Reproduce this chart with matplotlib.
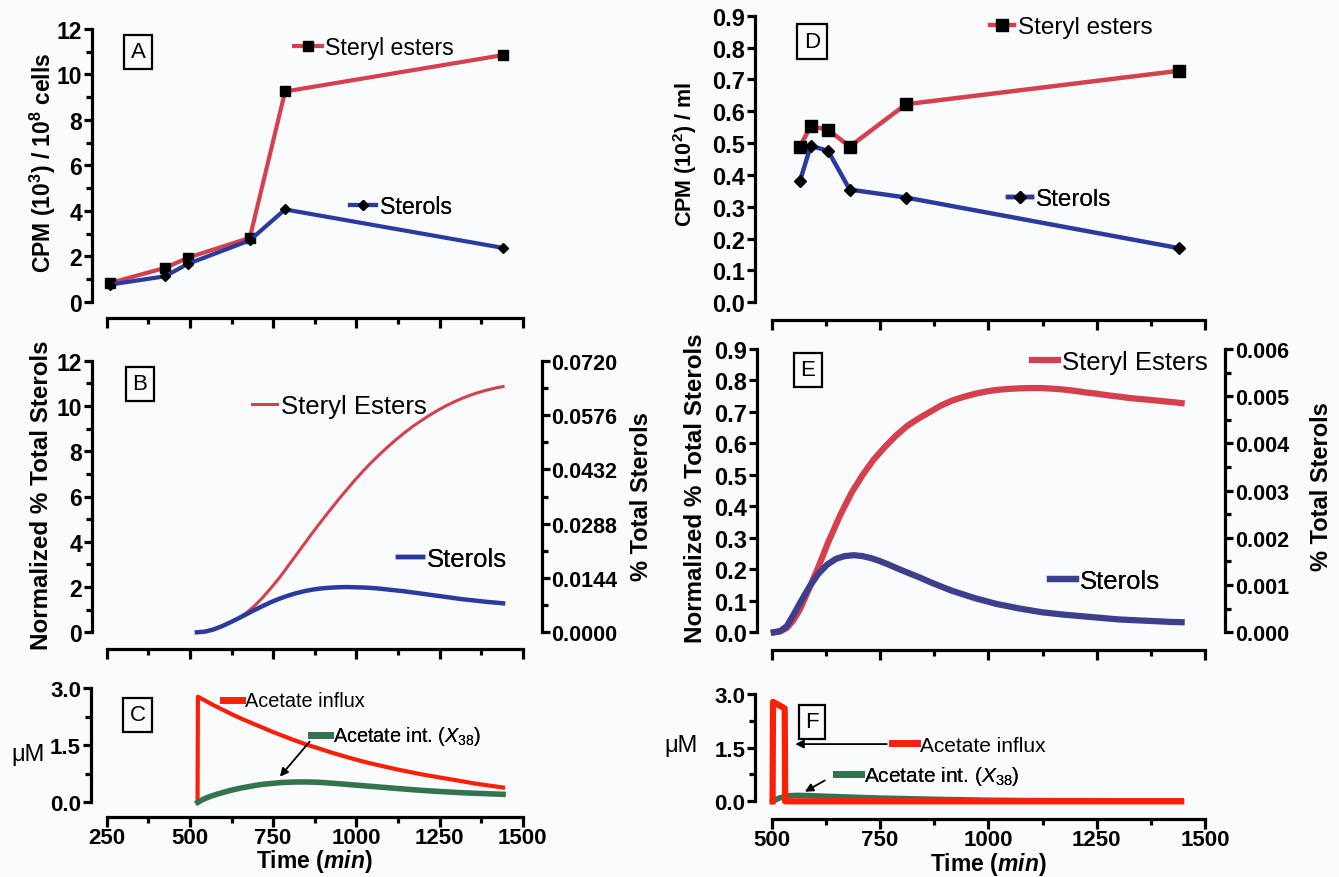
import matplotlib
matplotlib.use('Agg')
import matplotlib.pyplot as plt
from matplotlib.ticker import MultipleLocator, FixedLocator, FormatStrFormatter
from matplotlib.lines import Line2D

plt.rcParams['font.family'] = ['Liberation Sans', 'DejaVu Sans']
plt.rcParams['font.weight'] = 'bold'
plt.rcParams['mathtext.fontset'] = 'custom'
plt.rcParams['mathtext.rm'] = 'Liberation Sans:weight=normal'
plt.rcParams['mathtext.it'] = 'Liberation Sans:style=italic:weight=normal'
plt.rcParams['mathtext.bf'] = 'Liberation Sans:weight=bold'
plt.rcParams['mathtext.bfit'] = 'Liberation Sans:style=italic:weight=bold'

# ---- data ----
# A: experimental, per 10^8 cells
t_a = [259, 426, 493, 680, 786, 1440]
esters_a = [0.82, 1.49, 1.93, 2.81, 9.25, 10.85]
sterols_a = [0.75, 1.12, 1.66, 2.70, 4.06, 2.37]

# D: experimental, per ml
t_d = [565, 590, 630, 680, 810, 1440]
esters_d = [0.489, 0.553, 0.542, 0.489, 0.622, 0.727]
sterols_d = [0.380, 0.491, 0.476, 0.354, 0.329, 0.170]

# B: model, normalized % total sterols
t_b = [521, 545, 570, 595, 620, 645, 670, 695, 720, 745, 770, 795, 820, 845,
       870, 895, 920, 945, 970, 995, 1020, 1045, 1070, 1095, 1120, 1145, 1170,
       1195, 1220, 1245, 1270, 1295, 1320, 1345, 1370, 1395, 1420, 1441]
esters_b = [0, 0.03, 0.12, 0.26, 0.43, 0.62, 0.86, 1.18, 1.56, 1.98, 2.43,
            2.93, 3.43, 3.93, 4.43, 4.91, 5.38, 5.84, 6.28, 6.71, 7.12, 7.5,
            7.86, 8.2, 8.52, 8.82, 9.1, 9.35, 9.59, 9.81, 10.01, 10.19, 10.35,
            10.49, 10.61, 10.71, 10.8, 10.86]
sterols_b = [0, 0.03, 0.12, 0.26, 0.43, 0.61, 0.80, 0.99, 1.17, 1.34, 1.49,
             1.62, 1.73, 1.82, 1.89, 1.94, 1.97, 1.99, 2.0, 1.99, 1.98, 1.96,
             1.93, 1.89, 1.85, 1.81, 1.76, 1.71, 1.66, 1.61, 1.56, 1.51, 1.46,
             1.42, 1.38, 1.34, 1.31, 1.28]

# E: model, normalized % total sterols
t_e = [505, 520, 535, 550, 566, 585, 607, 630, 659, 685, 710, 735, 762, 787,
       813, 840, 865, 890, 916, 943, 970, 995, 1019, 1045, 1070, 1096, 1122,
       1148, 1175, 1200, 1225, 1250, 1275, 1300, 1328, 1360, 1390, 1420, 1446]
esters_e = [0, 0.003, 0.014, 0.038, 0.075, 0.135, 0.205, 0.285, 0.375, 0.445,
            0.50, 0.548, 0.59, 0.625, 0.656, 0.68, 0.70, 0.72, 0.736, 0.748,
            0.758, 0.765, 0.77, 0.773, 0.775, 0.776, 0.776, 0.774, 0.771,
            0.767, 0.762, 0.758, 0.753, 0.749, 0.744, 0.74, 0.736, 0.732, 0.728]
t_e2 = [505, 520, 535, 550, 566, 585, 607, 628, 648, 668, 690, 710, 731, 750,
        770, 790, 813, 840, 865, 890, 916, 943, 970, 995, 1019, 1045, 1070,
        1096, 1122, 1148, 1175, 1200, 1225, 1250, 1275, 1300, 1328, 1360, 1390,
        1420, 1446]
sterols_e = [0, 0.004, 0.02, 0.055, 0.095, 0.14, 0.185, 0.215, 0.233, 0.242,
             0.245, 0.242, 0.235, 0.226, 0.215, 0.203, 0.19, 0.175, 0.16, 0.146,
             0.132, 0.12, 0.108, 0.099, 0.09, 0.083, 0.076, 0.07, 0.064, 0.06,
             0.056, 0.053, 0.05, 0.047, 0.044, 0.041, 0.039, 0.037, 0.035,
             0.033, 0.032]

# C: acetate (uM)
t_c_in = [523, 524, 545, 570, 600, 630, 660, 690, 720, 750, 785, 815, 850, 890,
          925, 960, 1000, 1040, 1080, 1120, 1160, 1200, 1240, 1280, 1320, 1360,
          1400, 1441]
influx_c = [0, 2.78, 2.68, 2.56, 2.43, 2.3, 2.18, 2.07, 1.96, 1.85, 1.73,
            1.63, 1.52, 1.41, 1.31, 1.22, 1.12, 1.03, 0.95, 0.87, 0.8, 0.73,
            0.67, 0.61, 0.55, 0.49, 0.44, 0.39]
t_c_x = [524, 540, 560, 580, 600, 625, 650, 675, 700, 725, 751, 775, 800, 825,
         850, 875, 900, 930, 960, 995, 1030, 1065, 1100, 1150, 1194, 1240,
         1280, 1321, 1380, 1441]
x38_c = [0, 0.08, 0.15, 0.21, 0.26, 0.32, 0.37, 0.41, 0.45, 0.48, 0.50, 0.52,
         0.53, 0.535, 0.535, 0.53, 0.52, 0.50, 0.48, 0.455, 0.43, 0.405, 0.38,
         0.345, 0.315, 0.29, 0.27, 0.25, 0.23, 0.21]

# F: acetate (uM)
t_f_in = [502, 503, 530, 531, 1445]
influx_f = [0, 2.78, 2.6, 0, 0]
t_f_x = [503, 512, 520, 532, 545, 560, 580, 615, 650, 700, 750, 825, 900,
         1000, 1090, 1445]
x38_f = [0, 0.06, 0.10, 0.14, 0.16, 0.165, 0.16, 0.145, 0.13, 0.11, 0.09,
         0.07, 0.05, 0.03, 0.02, 0.01]

BG = '#fafbfd'
RED = '#d5404e'
BLUE = '#2b3a9e'
NAVY = '#3d3f8c'
ORANGE_RED = '#fa2008'
GREEN = '#33744f'

W, H = 1339, 878
fig = plt.figure(figsize=(W / 100, H / 100), dpi=100, facecolor=BG)


def px_axes(x0, x1, ytop, ybot):
    return fig.add_axes([x0 / W, 1 - ybot / H, (x1 - x0) / W, (ybot - ytop) / H])


def pt(px):
    return px * 0.72


def setup(ax, xlim, ylim, xmaj, xmin, yticks, ymin, yfmt, left_off, bot_off,
          xlabels, ysize=16):
    ax.set_facecolor('none')
    ax.set_xlim(*xlim)
    ax.set_ylim(*ylim)
    for s in ['top', 'right']:
        ax.spines[s].set_visible(False)
    ax.spines['left'].set_position(('outward', pt(left_off)))
    ax.spines['bottom'].set_position(('outward', pt(bot_off)))
    for s in ['left', 'bottom']:
        ax.spines[s].set_linewidth(2.3)
    ax.xaxis.set_major_locator(MultipleLocator(xmaj))
    ax.xaxis.set_minor_locator(MultipleLocator(xmin))
    ax.yaxis.set_major_locator(FixedLocator(yticks))
    if ymin:
        ax.yaxis.set_minor_locator(FixedLocator(ymin))
    ax.yaxis.set_major_formatter(FormatStrFormatter(yfmt))
    ax.tick_params(which='major', length=6, width=2.3, pad=1)
    ax.tick_params(which='minor', length=4, width=2.3)
    ax.tick_params(axis='y', labelsize=ysize)
    ax.tick_params(axis='x', which='major', length=7, pad=0.5, labelsize=16)
    ax.tick_params(axis='x', labelbottom=xlabels)


def right_axis(ax, ylim, yticks, ymin, yfmt, off):
    ax2 = ax.twinx()
    ax2.set_facecolor('none')
    ax2.set_ylim(*ylim)
    for s in ['top', 'left', 'bottom']:
        ax2.spines[s].set_visible(False)
    ax2.spines['right'].set_position(('outward', pt(off)))
    ax2.spines['right'].set_linewidth(2.3)
    ax2.yaxis.set_major_locator(FixedLocator(yticks))
    ax2.yaxis.set_minor_locator(FixedLocator(ymin))
    ax2.yaxis.set_major_formatter(FormatStrFormatter(yfmt))
    ax2.tick_params(which='major', length=6, width=2.3, labelsize=15.5, pad=1)
    ax2.tick_params(which='minor', length=4, width=2.3)
    return ax2


def ylab(ax, text, x, y, rot=90, weight='bold', size=16):
    ax.set_ylabel(text, fontsize=size, fontweight=weight, rotation=rot,
                  ha='center', va='center', rotation_mode='anchor')
    ax.yaxis.set_label_coords(x / W, 1 - y / H, transform=fig.transFigure)


def xlab(ax, text, x, y):
    ax.set_xlabel(text, fontsize=16.5, fontweight='bold', va='center')
    ax.xaxis.set_label_coords(x / W, 1 - y / H, transform=fig.transFigure)


def leg(ax, kw, label, x, y, hl, size=16):
    h = Line2D([], [], **kw)
    lg = ax.legend([h], [label], loc='center left', bbox_to_anchor=(x / W, 1 - y / H),
                   bbox_transform=fig.transFigure, frameon=False, borderpad=0,
                   borderaxespad=0, handlelength=hl, handletextpad=0.15, numpoints=1,
                   prop=dict(size=size, weight='normal'))
    ax.add_artist(lg)


def box(x, y, s):
    fig.text(x / W, 1 - y / H, s, ha='center', va='center', fontsize=16,
             fontweight='normal',
             bbox=dict(boxstyle='square,pad=0.3', fc='none', ec='black', lw=1.6))


# left column x: 250 -> 106.7 px, 1500 -> 522.7 px
LX0, LX1 = 106.7, 522.7
# right column x: 500 -> 771.7 px, 1500 -> 1205 px
RX0, RX1 = 771.7, 1205

# ---------- A ----------
axA = px_axes(LX0, LX1, 30, 302.7)
setup(axA, (250, 1500), (0, 12), 250, 125, list(range(0, 13, 2)), list(range(1, 12, 2)),
      '%d', 15, 16.3, False, ysize=16.5)
axA.plot(t_a, esters_a, color=RED, lw=3, marker='s', ms=7.5, mfc='black', mec='black',
         clip_on=False, zorder=3)
axA.plot(t_a, sterols_a, color=BLUE, lw=3, marker='D', ms=5.5, mfc='black', mec='black',
         clip_on=False, zorder=4)
ylab(axA, r'CPM (10$^{\mathbf{3}}$) / 10$^{\mathbf{8}}$ cells', 43, 163, size=16.5)
leg(axA, dict(color=RED, lw=3, marker='s', ms=7.5, mfc='black', mec='black'),
    'Steryl esters', 294, 49, 1.2, size=16.7)
leg(axA, dict(color=BLUE, lw=3, marker='D', ms=5.5, mfc='black', mec='black'),
    'Sterols', 349.5, 208, 1.15, size=16.7)
box(138, 53, 'A')

# ---------- B ----------
axB = px_axes(LX0, LX1, 361.7, 633.3)
setup(axB, (250, 1500), (0, 12), 250, 125, list(range(0, 13, 2)), list(range(1, 12, 2)),
      '%d', 15, 16.7, False, ysize=16.5)
axB.plot(t_b, esters_b, color=RED, lw=2.2, clip_on=False, zorder=3)
axB.plot(t_b, sterols_b, color=BLUE, lw=3.2, clip_on=False, zorder=4)
axB2 = right_axis(axB, (0, 0.072), [0, 0.0144, 0.0288, 0.0432, 0.0576, 0.072],
                  [0.0072, 0.0216, 0.036, 0.0504, 0.0648], '%.4f', 19)
ylab(axB, 'Normalized % Total Sterols', 42, 495, size=17.4)
ylab(axB2, '% Total Sterols', 641, 497, size=17)
leg(axB, dict(color=RED, lw=2.2), 'Steryl Esters', 251.7, 407, 1.0, size=18.5)
leg(axB, dict(color=BLUE, lw=3.2), 'Sterols', 397.7, 560, 1.0, size=18.5)
box(140, 385, 'B')

# ---------- C ----------
axC = px_axes(LX0, LX1, 689.3, 803.3)
setup(axC, (250, 1500), (0, 3), 250, 125, [0, 1.5, 3.0], [0.75, 2.25], '%.1f', 16, 14.7,
      True)
axC.plot(t_c_in, influx_c, color=ORANGE_RED, lw=3, clip_on=False, zorder=3)
axC.plot(t_c_x, x38_c, color=GREEN, lw=4, clip_on=False, zorder=4)
ylab(axC, 'μM', 28, 755, rot=0, weight='normal', size=17)
xlab(axC, r'Time ($\mathbfit{min}$)', 314.7, 862)
leg(axC, dict(color=ORANGE_RED, lw=5), 'Acetate influx', 223, 702, 0.95, size=14.3)
leg(axC, dict(color=GREEN, lw=5), r'Acetate int. ($\mathit{X}_{38}$)', 311, 737, 0.95,
    size=14.3)
axC.annotate('', xy=(765, 0.62), xytext=(865, 1.65),
             arrowprops=dict(arrowstyle='-|>', color='black', lw=1.3, mutation_scale=12))
box(137.5, 716, 'C')

# ---------- D ----------
axD = px_axes(RX0, RX1, 16.7, 303.3)
setup(axD, (500, 1500), (0, 0.9), 250, 125, [i / 10 for i in range(10)], None,
      '%.1f', 17, 17.4, False, ysize=17)
axD.plot(t_d, esters_d, color=RED, lw=3.2, marker='s', ms=9, mfc='black', mec='black',
         clip_on=False, zorder=3)
axD.plot(t_d, sterols_d, color=BLUE, lw=3.2, marker='D', ms=6, mfc='black', mec='black',
         clip_on=False, zorder=4)
ylab(axD, r'CPM (10$^{\mathbf{2}}$) / ml', 684.6, 155, size=15.5)
leg(axD, dict(color=RED, lw=3.2, marker='s', ms=9, mfc='black', mec='black'),
    'Steryl esters', 990, 28, 1.0, size=17.5)
leg(axD, dict(color=BLUE, lw=3.2, marker='D', ms=6, mfc='black', mec='black'),
    'Sterols', 1008, 200, 1.0, size=17.5)
box(812, 42.5, 'D')

# ---------- E ----------
axE = px_axes(RX0, RX1, 350, 633.3)
setup(axE, (500, 1500), (0, 0.9), 250, 125, [i / 10 for i in range(10)], None,
      '%.1f', 15, 17.4, False, ysize=17)
axE.plot(t_e, esters_e, color=RED, lw=4.5, clip_on=False, zorder=3)
axE.plot(t_e2, sterols_e, color=NAVY, lw=4.5, clip_on=False, zorder=4)
axE2 = right_axis(axE, (0, 0.006), [0, 0.001, 0.002, 0.003, 0.004, 0.005, 0.006],
                  [0.0005, 0.0015, 0.0025, 0.0035, 0.0045, 0.0055], '%.3f', 20)
ylab(axE, 'Normalized % Total Sterols', 695.7, 488, size=17.4)
ylab(axE2, '% Total Sterols', 1322, 487, size=17)
leg(axE, dict(color=RED, lw=4.5), 'Steryl Esters', 1032, 363, 1.0, size=18.5)
leg(axE, dict(color=NAVY, lw=4.5), 'Sterols', 1050, 582, 1.0, size=18.5)
box(808, 371, 'E')

# ---------- F ----------
axF = px_axes(RX0, RX1, 695, 802.3)
setup(axF, (500, 1500), (0, 3), 250, 125, [0, 1.5, 3.0], [0.75, 2.25], '%.1f', 16.5, 17.7,
      True)
axF.plot(t_f_x, x38_f, color=GREEN, lw=4, clip_on=False, zorder=3)
axF.plot(t_f_in, influx_f, color=ORANGE_RED, lw=4.5, clip_on=False, zorder=4)
ylab(axF, 'μM', 681, 746, rot=0, weight='normal', size=17)
xlab(axF, r'Time ($\mathbfit{min}$)', 988.3, 865)
leg(axF, dict(color=ORANGE_RED, lw=5), 'Acetate influx', 892, 746, 1.2, size=15)
leg(axF, dict(color=GREEN, lw=5), r'Acetate int. ($\mathit{X}_{38}$)', 836, 777, 1.2,
    size=15)
axF.annotate('', xy=(548, 1.6), xytext=(772, 1.6),
             arrowprops=dict(arrowstyle='-|>', color='black', lw=1.3, mutation_scale=12))
axF.annotate('', xy=(571, 0.23), xytext=(628, 0.62),
             arrowprops=dict(arrowstyle='-|>', color='black', lw=1.3, mutation_scale=12))
box(812, 723, 'F')

fig.savefig('out.png', dpi=100, facecolor=BG)
